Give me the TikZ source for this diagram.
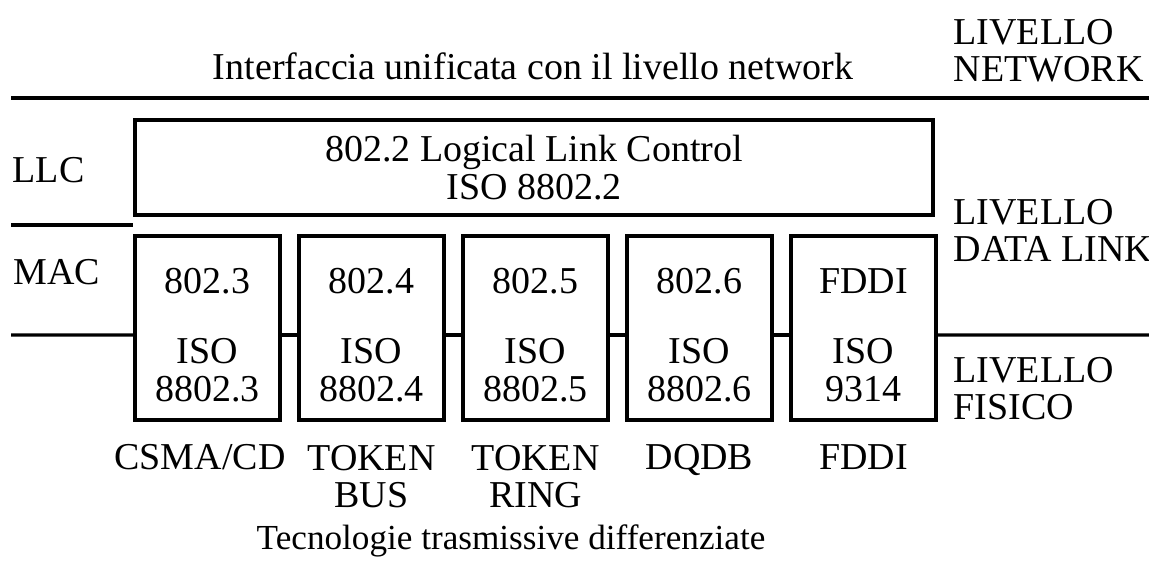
\documentclass[tikz,border=0pt]{standalone}
\usepackage{fontspec}
\setmainfont{Liberation Serif}
\usetikzlibrary{calc,positioning}
\tikzset{
  layer/.style={line width=0.9pt},
  llcbox/.style={draw,line width=1.2pt,minimum width=7.98cm,minimum height=0.95cm,
    align=center,inner sep=0pt},
  macbox/.style={draw,line width=1.2pt,minimum width=1.45cm,minimum height=1.84cm,
    align=center,inner sep=0pt},
  lbl/.style={inner sep=0pt,align=left,anchor=base west},
  tech/.style={inner sep=0pt,align=center,anchor=base},
  every node/.style={font=\fontsize{10.8}{10.8}\selectfont}
}

\begin{document}
\begin{tikzpicture}[x=0.01cm,y=-0.01cm]
  \useasboundingbox (0,0) rectangle (1149,565);
  % upper interface
  \node[tech] (iface) at (533,80) {Interfaccia unificata con il livello network};
  \node[lbl] (lnet) at (953,82) {LIVELLO\\NETWORK};
  \coordinate (topl) at (11,98);
  \coordinate (topr) at (1149,98);
  \draw[layer] (topl) -- (topr);
  % LLC sublayer
  \node[lbl] (llc) at (12,183) {LLC};
  \node[llcbox] (llcb) at (534,167.5) {802.2 Logical Link Control\\ISO 8802.2};
  \coordinate (midl) at (11,225);
  \draw[layer] (midl) -- (midl -| llcb.west);
  % MAC sublayer
  \node[lbl] (mac) at (13,285) {MAC};
  \foreach \n/\std/\iso [count=\i from 0] in
      {1/802.3/8802.3, 2/802.4/8802.4, 3/802.5/8802.5, 4/802.6/8802.6, 5/FDDI/9314}
    \node[macbox] (m\n) at (207.5+164*\i,328) {\rule{0pt}{0.40cm}\std\\[0.32cm]ISO\\\iso};
  \foreach \i [count=\j from 2] in {1,...,4}
    \draw[layer] ([yshift=-0.07cm]m\i.east) -- ([yshift=-0.07cm]m\j.west);
  \coordinate (botl) at (11,335);
  \coordinate (botr) at (1149,335);
  \draw[layer] (botl) -- ([yshift=-0.07cm]m1.west);
  \draw[layer] ([yshift=-0.07cm]m5.east) -- (botr);
  \node[lbl] (ldl) at (953,262) {LIVELLO\\DATA LINK};
  \node[lbl] (lfis) at (953,420) {LIVELLO\\FISICO};
  % technologies
  \node[tech] (t1) at (200,470) {CSMA/CD};
  \node[tech] (t2) at (m2 |- 0,508) {TOKEN\\BUS};
  \node[tech] (t3) at (m3 |- 0,508) {TOKEN\\RING};
  \node[tech] (t4) at (m4 |- 0,470) {DQDB};
  \node[tech] (t5) at (m5 |- 0,470) {FDDI};
  \node[tech,font=\fontsize{10}{10}\selectfont] (tdiff) at (511,550)
    {Tecnologie trasmissive differenziate};
\end{tikzpicture}
\end{document}
